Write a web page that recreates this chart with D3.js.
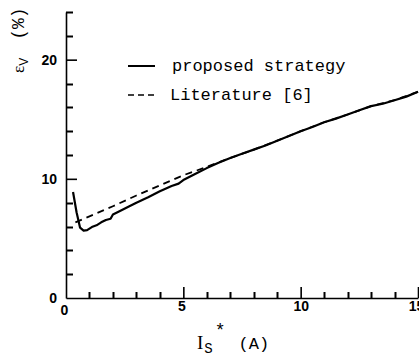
<!DOCTYPE html>
<html>
<head>
<meta charset="utf-8">
<script src="https://cdn.jsdelivr.net/npm/d3@7"></script>
<style>
  body { margin: 0; background: #fff; }
  .tick text { font-family: "Liberation Sans", Arial, sans-serif; font-weight: bold; font-size: 14px; fill: #000; }
  .domain, .tick line { stroke: #000; stroke-width: 1.6; }
</style>
</head>
<body>
<div id="chart"></div>
<script>
// data
var seriesNames = ["proposed strategy", "Literature [6]"];

var propX = [0.3, 0.45, 0.6, 0.75, 0.9, 1.1, 1.3, 1.5, 1.7, 1.9, 2.0, 2.3, 2.7, 3.0, 3.5, 4.0, 4.5, 4.8, 5.0, 5.5,
             6.0, 6.5, 7.0, 7.5, 8.0, 8.5, 9.0, 9.5, 10, 10.5, 11, 11.5, 12, 12.5, 13, 13.5, 14, 14.5, 15];
var propY = [8.9, 7.2, 5.9, 5.65, 5.7, 5.95, 6.1, 6.35, 6.55, 6.65, 7.0, 7.3, 7.7, 8.0, 8.45, 8.95, 9.4, 9.6, 9.9, 10.4,
             10.9, 11.35, 11.75, 12.1, 12.45, 12.8, 13.2, 13.6, 14.0, 14.35, 14.75, 15.05, 15.4, 15.75, 16.1, 16.3, 16.6, 16.9, 17.3];

var litX = [0.4, 1, 2, 3, 4, 5, 6, 7, 8, 9, 10, 11, 12, 13, 14, 15];
var litY = [6.35, 6.85, 7.7, 8.6, 9.45, 10.3, 11.0, 11.75, 12.45, 13.2, 14.0, 14.75, 15.4, 16.1, 16.6, 17.3];

var xMajor = [0, 5, 10, 15];
var xMinor = [1, 2, 3, 4, 6, 7, 8, 9, 11, 12, 13, 14];
var yMajor = [0, 10, 20];
var yMinor = [2, 4, 6, 8, 12, 14, 16, 18, 22, 24];

var width = 419, height = 357;

var svg = d3.select("#chart")
  .append("svg")
  .attr("width", width)
  .attr("height", height);

var x = d3.scaleLinear().domain([0, 15]).range([66, 418]);
var y = d3.scaleLinear().domain([0, 24]).range([298, 12]);

// minor ticks, pointing inward
var minorPath = "";
yMinor.forEach(function(d) {
  var yy = Math.round(y(d)) + 0.5;
  minorPath += "M" + x(0) + "," + yy + "H" + (x(0) + 7);
});
xMinor.forEach(function(d) {
  var xx = Math.round(x(d)) + 0.5;
  minorPath += "M" + xx + "," + y(0) + "V" + (y(0) - 6);
});
svg.append("path")
  .attr("d", minorPath)
  .attr("fill", "none")
  .attr("stroke", "#000")
  .attr("stroke-width", 2);

// y axis
var yAxis = svg.append("g")
  .attr("transform", "translate(" + x(0) + ",0)")
  .call(d3.axisLeft(y).tickValues(yMajor).tickSize(-11).tickSizeOuter(0).tickPadding(9));
yAxis.selectAll(".tick line").filter(d => d === 0).remove();

// x axis
var xAxis = svg.append("g")
  .attr("transform", "translate(0," + y(0) + ")")
  .call(d3.axisBottom(x).tickValues(xMajor).tickSize(-11).tickSizeOuter(0).tickPadding(3));
xAxis.selectAll(".tick line").filter(d => d === 0).remove();
xAxis.selectAll(".tick text").filter(d => d === 0).attr("y", 7).attr("dx", -2);
xAxis.selectAll(".tick text").filter(d => d === 5).attr("dx", -2);
xAxis.selectAll(".tick text").filter(d => d === 15).attr("dx", -2);

// curves
var line = d3.line().x(d => x(d[0])).y(d => y(d[1]));

svg.append("path")
  .datum(d3.zip(litX, litY))
  .attr("d", line)
  .attr("fill", "none")
  .attr("stroke", "#000")
  .attr("stroke-width", 1.8)
  .attr("stroke-dasharray", "7,5");

svg.append("path")
  .datum(d3.zip(propX, propY))
  .attr("d", line)
  .attr("fill", "none")
  .attr("stroke", "#000")
  .attr("stroke-width", 2.2)
  .attr("stroke-linejoin", "round");

// legend
var legendY = [66, 95];
var dashes = [null, "6,4"];
seriesNames.forEach(function(name, i) {
  svg.append("line")
    .attr("x1", 128).attr("x2", 155)
    .attr("y1", legendY[i]).attr("y2", legendY[i])
    .attr("stroke", "#000")
    .attr("stroke-width", i === 0 ? 2 : 1.6)
    .attr("stroke-dasharray", dashes[i]);
  svg.append("text")
    .attr("x", i === 0 ? 172 : 170)
    .attr("y", legendY[i] + 5)
    .style("font-family", "'Liberation Mono', 'Courier New', monospace")
    .style("font-size", "17px")
    .text(name);
});

// axis titles
var xt = svg.append("text")
  .attr("x", 197)
  .attr("y", 349)
  .style("font-family", "'Liberation Mono', monospace")
  .style("font-size", "17px");
xt.append("tspan").style("font-family", "'Liberation Serif', serif").style("font-size", "19px").text("I");
xt.append("tspan").attr("dy", 4).attr("dx", 1).style("font-size", "14px").text("S");
xt.append("tspan").attr("dy", -17).attr("dx", 2).style("font-size", "18px").text("*");
xt.append("tspan").attr("dy", 13).attr("dx", 13).text("(A)");

var yt = svg.append("text")
  .attr("transform", "translate(24,73) rotate(-90)")
  .style("font-family", "'Liberation Serif', serif")
  .style("font-size", "17px");
yt.append("tspan").text("ε");
yt.append("tspan").attr("dy", 4).style("font-size", "12px").style("font-family", "'Liberation Sans', sans-serif").text("V");
yt.append("tspan").attr("dy", -4).attr("dx", 18).style("font-family", "'Liberation Mono', monospace").style("font-size", "18px").text("(%)");
</script>
</body>
</html>
